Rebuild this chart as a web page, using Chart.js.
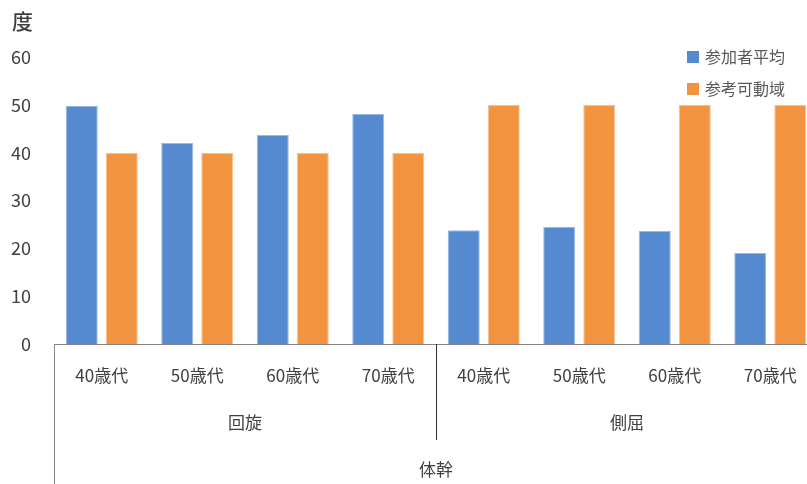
<!DOCTYPE html>
<html>
<head>
<meta charset="utf-8">
<script src="https://cdn.jsdelivr.net/npm/chart.js@4/dist/chart.umd.min.js"></script>
<style>
  html, body { margin: 0; padding: 0; overflow: hidden; background: #fff; }
  #wrap { width: 818px; height: 484px; position: relative; }
</style>
</head>
<body>
<div id="wrap"><canvas id="chart"></canvas></div>
<script>
'use strict';
// data
const ages = ['40歳代', '50歳代', '60歳代', '70歳代', '40歳代', '50歳代', '60歳代', '70歳代'];
const groups = ['回旋', '側屈'];
const topGroup = '体幹';
const participantAvg = [49.8, 42.0, 43.7, 48.1, 23.8, 24.5, 23.6, 19.0];
const referenceRange = [40, 40, 40, 40, 50, 50, 50, 50];
const yTicks = [0, 10, 20, 30, 40, 50, 60];

const FONT = '"Noto Sans CJK JP", "Noto Sans", sans-serif';
const TEXT = '#404040';
const LINE = '#868686';

// draws the multi-level category axis, the unit label and the legend
const decorations = {
  id: 'decorations',
  afterDraw(chart) {
    const ctx = chart.ctx;
    const x = chart.scales.x;
    const area = chart.chartArea;
    const h = chart.height;
    ctx.save();

    // axis frame
    ctx.strokeStyle = LINE;
    ctx.lineWidth = 1;
    ctx.beginPath();
    ctx.moveTo(area.left + 0.5, area.bottom);
    ctx.lineTo(area.left + 0.5, h);
    ctx.moveTo(area.left, area.bottom + 0.5);
    ctx.lineTo(area.right, area.bottom + 0.5);
    ctx.stroke();

    const catW = (area.right - area.left) / ages.length;
    const per = ages.length / groups.length;
    ctx.strokeStyle = '#303030';
    for (let g = 1; g < groups.length; g++) {
      const gx = Math.round(area.left + g * per * catW) + 0.5;
      ctx.beginPath();
      ctx.moveTo(gx, area.bottom);
      ctx.lineTo(gx, area.bottom + 96);
      ctx.stroke();
    }

    ctx.fillStyle = TEXT;
    ctx.textAlign = 'center';
    ctx.textBaseline = 'middle';
    ctx.font = '17px ' + FONT;
    ages.forEach((a, i) => {
      ctx.fillText(a, x.getPixelForValue(i), area.bottom + 32);
    });
    groups.forEach((g, i) => {
      const cx = area.left + (i + 0.5) * per * catW;
      ctx.fillText(g, cx, area.bottom + 79);
    });
    ctx.fillText(topGroup, (area.left + area.right) / 2, area.bottom + 126);

    // unit label
    ctx.font = '500 21px ' + FONT;
    ctx.textAlign = 'left';
    ctx.fillText('度', 12, 21);

    // legend
    ctx.font = '16px ' + FONT;
    chart.data.datasets.forEach((ds, i) => {
      const ly = 57 + i * 32;
      ctx.fillStyle = ds.backgroundColor;
      ctx.fillRect(687, ly - 6, 12, 12);
      ctx.fillStyle = '#595959';
      ctx.fillText(ds.label, 705, ly);
    });
    ctx.restore();
  }
};

new Chart(document.getElementById('chart'), {
  type: 'bar',
  data: {
    labels: ages,
    datasets: [
      {
        label: '参加者平均',
        data: participantAvg,
        backgroundColor: '#5589d0',
        borderColor: '#9ab8e4',
        borderWidth: 1,
      },
      {
        label: '参考可動域',
        data: referenceRange,
        backgroundColor: '#f29340',
        borderColor: '#f7c095',
        borderWidth: 1,
      },
    ],
  },
  options: {
    responsive: true,
    maintainAspectRatio: false,
    animation: false,
    layout: { padding: { top: 57, bottom: 0, left: 0, right: 0 } },
    categoryPercentage: 0.838,
    barPercentage: 0.8,
    plugins: {
      legend: { display: false },
      tooltip: { enabled: false },
    },
    scales: {
      x: {
        grid: { display: false },
        border: { display: false },
        ticks: { display: false },
        afterFit(scale) { scale.height = 140; },
      },
      y: {
        min: 0,
        max: 60,
        afterBuildTicks(scale) { scale.ticks = yTicks.map(v => ({ value: v })); },
        grid: { display: false },
        border: { display: false },
        ticks: {
          color: TEXT,
          font: { family: FONT, size: 18 },
          padding: 15,
        },
        afterFit(scale) { scale.width = 54; },
      },
    },
  },
  plugins: [decorations],
});
</script>
</body>
</html>
